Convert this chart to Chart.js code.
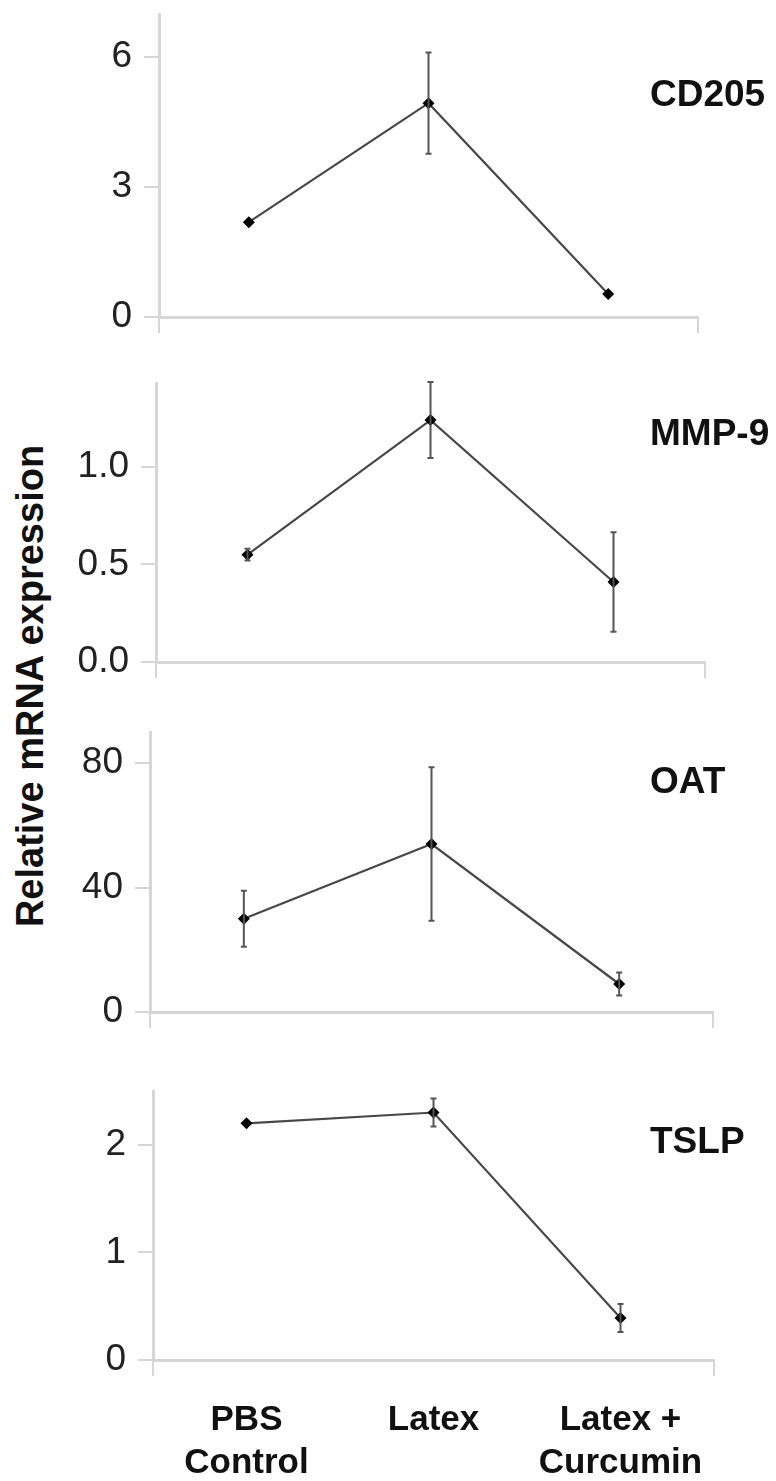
<!DOCTYPE html>
<html lang="en">
<head>
<meta charset="UTF-8">
<title>Relative mRNA expression</title>
<script src="https://cdn.jsdelivr.net/npm/chart.js"></script>
<style>
    body {
        margin: 0;
        background: #fff;
        font-family: "Liberation Sans", Arial, sans-serif;
    }
    #page {
        position: relative;
        width: 776px;
        height: 1481px;
        overflow: hidden;
    }
    canvas {
        position: absolute;
        left: 0;
    }
    .gene {
        position: absolute;
        font-weight: bold;
        font-size: 37px;
        line-height: 1;
        color: #111;
        transform: translateY(-50%);
    }
    #ytitle {
        position: absolute;
        left: 30px;
        top: 686px;
        font-weight: bold;
        font-size: 38px;
        color: #111;
        white-space: nowrap;
        transform: translate(-50%, -50%) rotate(-90deg);
    }
</style>
</head>
<body>
<div id="page">
    <div id="ytitle">Relative mRNA expression</div>
</div>

<script>
    // data
    const groups = [['PBS', 'Control'], ['Latex'], ['Latex +', 'Curcumin']];
    const genes = ['CD205', 'MMP-9', 'OAT', 'TSLP'];

    const cd205 = [2.19, 4.94, 0.53];
    const cd205Err = [0, 1.17, 0];
    const mmp9 = [0.55, 1.24, 0.41];
    const mmp9Err = [0.03, 0.195, 0.255];
    const oat = [30, 54, 9];
    const oatErr = [9, 24.7, 3.7];
    const tslp = [2.2, 2.3, 0.39];
    const tslpErr = [0, 0.13, 0.13];

    const yMax = [7, 1.43, 90, 2.5];
    const yStep = [3, 0.5, 40, 1];

    // layout of each panel (pixel boxes of the plot area)
    const panels = [
        { values: cd205, errs: cd205Err, top: 14, zero: 317, axisX: 159, right: 698, nameY: 93, dec: 0 },
        { values: mmp9, errs: mmp9Err, top: 383, zero: 662, axisX: 156, right: 705, nameY: 432, dec: 1 },
        { values: oat, errs: oatErr, top: 732, zero: 1012, axisX: 150, right: 713, nameY: 780, dec: 0 },
        { values: tslp, errs: tslpErr, top: 1091, zero: 1360, axisX: 153, right: 714, nameY: 1140, dec: 0 }
    ];

    const FONT = '"Liberation Sans", Arial, sans-serif';
    const AXIS = '#d6d6d6';

    // error bars drawn from the dataset's own y scale
    const errorBars = {
        id: 'errorBars',
        afterDatasetsDraw(chart, args, opts) {
            const ctx = chart.ctx;
            const xs = chart.scales.x, ys = chart.scales.y;
            const vals = chart.data.datasets[0].data;
            ctx.save();
            ctx.strokeStyle = '#555';
            ctx.lineWidth = 2;
            opts.errs.forEach((e, i) => {
                if (!e) return;
                const x = xs.getPixelForValue(i);
                const y1 = ys.getPixelForValue(vals[i] + e);
                const y2 = ys.getPixelForValue(vals[i] - e);
                ctx.beginPath();
                ctx.moveTo(x, y1); ctx.lineTo(x, y2);
                ctx.moveTo(x - 3, y1); ctx.lineTo(x + 3, y1);
                ctx.moveTo(x - 3, y2); ctx.lineTo(x + 3, y2);
                ctx.stroke();
            });
            ctx.restore();
        }
    };

    const page = document.getElementById('page');

    panels.forEach((p, k) => {
        const last = k === panels.length - 1;
        const padTop = 40;
        const bottomSpace = last ? 1481 - p.zero : 40;
        const h = p.zero - p.top + padTop + bottomSpace;

        const cv = document.createElement('canvas');
        cv.width = 776;
        cv.height = h;
        cv.style.top = (p.top - padTop) + 'px';
        page.appendChild(cv);

        const name = document.createElement('div');
        name.className = 'gene';
        name.textContent = genes[k];
        name.style.left = '650px';
        name.style.top = p.nameY + 'px';
        page.appendChild(name);

        new Chart(cv, {
            type: 'line',
            data: {
                labels: groups,
                datasets: [{
                    data: p.values,
                    borderColor: '#484848',
                    borderWidth: 2.2,
                    pointStyle: 'rectRot',
                    pointRadius: 6,
                    pointBackgroundColor: '#000',
                    pointBorderColor: '#000',
                    pointBorderWidth: 0,
                    tension: 0
                }]
            },
            options: {
                responsive: false,
                animation: false,
                layout: { padding: { top: padTop, right: 776 - p.right, left: 0, bottom: 0 } },
                plugins: {
                    legend: { display: false },
                    tooltip: { enabled: false },
                    errorBars: { errs: p.errs }
                },
                scales: {
                    x: {
                        offset: true,
                        grid: {
                            offset: true,
                            drawOnChartArea: false,
                            drawTicks: true,
                            tickLength: 16,
                            lineWidth: 2,
                            color: c => (c.type !== 'tick' || c.index === 0) ? AXIS : 'rgba(0,0,0,0)'
                        },
                        border: { color: AXIS, width: 3 },
                        ticks: {
                            display: last,
                            maxRotation: 0,
                            padding: 22,
                            color: '#111',
                            font: { family: FONT, size: 35, weight: 'bold', lineHeight: 1.25 }
                        },
                        afterFit(s) { s.height = bottomSpace; }
                    },
                    y: {
                        min: 0,
                        max: yMax[k],
                        grid: {
                            drawOnChartArea: false,
                            drawTicks: true,
                            tickLength: 15,
                            lineWidth: 2,
                            color: AXIS
                        },
                        border: { color: AXIS, width: 3 },
                        ticks: {
                            stepSize: yStep[k],
                            includeBounds: false,
                            padding: 12,
                            color: '#222',
                            font: { family: FONT, size: 37 },
                            callback: v => v.toFixed(p.dec)
                        },
                        afterFit(s) { s.width = p.axisX; }
                    }
                }
            },
            plugins: [errorBars]
        });
    });
</script>
</body>
</html>
